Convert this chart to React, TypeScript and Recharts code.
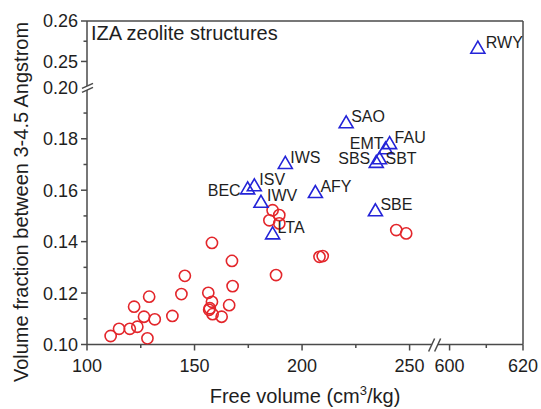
import { Scatter, ScatterChart, XAxis, YAxis } from "recharts";

const FONT = '"Liberation Sans", Arial, Helvetica, sans-serif';
const AXIS = "#4a4a4a";
const INK = "#1e1e1e";
const RED = "#e3262b";
const BLUE = "#2424d8";

// IZA structures (triangles, labelled)
const structNames = ["SAO", "FAU", "EMT", "SBS", "SBT", "IWS", "ISV", "BEC", "IWV", "AFY", "SBE", "LTA", "RWY"];
const structFreeVolume = [220.5, 240.7, 238.8, 234.5, 236.0, 192.2, 177.8, 174.7, 180.9, 206.2, 234.1, 186.3, 607.7];
const structFraction = [0.1864, 0.1783, 0.1763, 0.171, 0.1724, 0.1706, 0.1619, 0.1607, 0.1555, 0.1593, 0.1522, 0.1432, 0.2534];

// other structures (open circles)
const otherFreeVolume = [
  111.0, 114.9, 119.9, 123.4, 121.9, 126.5, 128.1, 128.9, 131.5, 139.7, 143.9, 145.5, 158.1, 156.4, 158.1,
  157.1, 156.8, 158.4, 162.6, 166.1, 167.7, 167.4, 187.9, 186.3, 189.4, 184.8, 189.4, 208.1, 209.6, 243.8, 248.4,
];
const otherFraction = [
  0.1033, 0.1061, 0.1061, 0.1069, 0.1147, 0.1108, 0.1024, 0.1186, 0.1098, 0.1111, 0.1196, 0.1267, 0.1395, 0.1201, 0.1166,
  0.1141, 0.1135, 0.1118, 0.1108, 0.1153, 0.1227, 0.1325, 0.127, 0.1522, 0.1503, 0.1483, 0.1471, 0.1341, 0.1344, 0.1445, 0.1432,
];

// tick labels
const xMajorLow = [100, 150, 200, 250];
const xMinorLow = [125, 175, 225];
const xMajorHigh = [600, 620];
const xMinorHigh = [610];
const yMajorLow = [0.1, 0.12, 0.14, 0.16, 0.18];
const yMinorLow = [0.11, 0.13, 0.15, 0.17, 0.19];
const yMajorHigh = [0.25, 0.26];
const yMinorHigh = [0.255];

// broken axes: values past the break are shifted onto the remaining axis length
type Break = { lowEnd: number; highStart: number; stretch: number };
const xBreak: Break = { lowEnd: 262.1, highStart: 596.2, stretch: 1.707 };
const yBreak: Break = { lowEnd: 0.2, highStart: 0.2436, stretch: 1.573 };
const fold = (v: number, b: Break) => (v <= b.lowEnd ? v : b.lowEnd + (v - b.highStart) * b.stretch);

type TickDef = { at: number; kind: "major" | "minor" | "break"; label?: string };

const xTickDefs: TickDef[] = [
  ...xMajorLow.map((v) => ({ at: v, kind: "major" as const, label: String(v) })),
  ...xMinorLow.map((v) => ({ at: v, kind: "minor" as const })),
  { at: xBreak.lowEnd, kind: "break" as const },
  ...xMajorHigh.map((v) => ({ at: fold(v, xBreak), kind: "major" as const, label: String(v) })),
  ...xMinorHigh.map((v) => ({ at: fold(v, xBreak), kind: "minor" as const })),
].sort((a, b) => a.at - b.at);

const yTickDefs: TickDef[] = [
  ...yMajorLow.map((v) => ({ at: v, kind: "major" as const, label: v.toFixed(2) })),
  ...yMinorLow.map((v) => ({ at: v, kind: "minor" as const })),
  { at: yBreak.lowEnd, kind: "break" as const, label: yBreak.lowEnd.toFixed(2) },
  ...yMajorHigh.map((v) => ({ at: fold(v, yBreak), kind: "major" as const, label: v.toFixed(2) })),
  ...yMinorHigh.map((v) => ({ at: fold(v, yBreak), kind: "minor" as const })),
].sort((a, b) => a.at - b.at);

const findDef = (defs: TickDef[], v: number) => defs.find((d) => Math.abs(d.at - v) < 1e-6);

const xDomain = [100, fold(620, xBreak)];
const yDomain = [0.1, fold(0.26, yBreak)];

const structData = structNames.map((name, i) => ({
  name,
  x: fold(structFreeVolume[i], xBreak),
  y: fold(structFraction[i], yBreak),
}));
const otherData = otherFreeVolume.map((v, i) => ({ x: fold(v, xBreak), y: fold(otherFraction[i], yBreak) }));

// where each label sits relative to its triangle
const defaultPlace = { dx: 5, dy: -6, anchor: "start" };
const labelPlace: Record<string, { dx: number; dy: number; anchor: string }> = {
  EMT: { dx: -2, dy: -5, anchor: "end" },
  SBS: { dx: -6, dy: -4, anchor: "end" },
  BEC: { dx: -7, dy: 2, anchor: "end" },
  SBT: { dx: 6, dy: 0, anchor: "start" },
  IWV: { dx: 6, dy: -7, anchor: "start" },
  RWY: { dx: 8, dy: -5, anchor: "start" },
};

function XTick({ x, y, payload }: any) {
  const def = findDef(xTickDefs, payload.value);
  if (!def) return null;
  if (def.kind === "break") {
    return (
      <g>
        <polygon points={`${x - 7},${y + 7} ${x - 1},${y - 6} ${x + 5},${y - 6} ${x - 1},${y + 7}`} fill="#fff" />
        <line x1={x - 7} y1={y + 7} x2={x - 1} y2={y - 6} stroke={AXIS} strokeWidth={1.5} />
        <line x1={x - 1} y1={y + 7} x2={x + 5} y2={y - 6} stroke={AXIS} strokeWidth={1.5} />
      </g>
    );
  }
  return (
    <g>
      <line x1={x} x2={x} y1={y} y2={y + (def.kind === "major" ? 6 : 3.5)} stroke={AXIS} strokeWidth={1.5} />
      {def.label && (
        <text x={x} y={y + 27.5} textAnchor="middle" fontSize={18} fill={INK} fontFamily={FONT}>
          {def.label}
        </text>
      )}
    </g>
  );
}

function YTick({ x, y, payload }: any) {
  const def = findDef(yTickDefs, payload.value);
  if (!def) return null;
  const label = def.label && (
    <text x={x - 9} y={y} dy="0.36em" textAnchor="end" fontSize={18} fill={INK} fontFamily={FONT}>
      {def.label}
    </text>
  );
  if (def.kind === "break") {
    return (
      <g>
        <polygon points={`${x - 5},${y + 1} ${x + 6},${y - 4} ${x + 6},${y} ${x - 5},${y + 5}`} fill="#fff" />
        <line x1={x - 5} y1={y + 1} x2={x + 6} y2={y - 4} stroke={AXIS} strokeWidth={1.5} />
        <line x1={x - 5} y1={y + 5} x2={x + 6} y2={y} stroke={AXIS} strokeWidth={1.5} />
        {label}
      </g>
    );
  }
  return (
    <g>
      <line x1={x - (def.kind === "major" ? 6 : 3.5)} x2={x} y1={y} y2={y} stroke={AXIS} strokeWidth={1.5} />
      {label}
    </g>
  );
}

const Ring = (p: any) => <circle cx={p.cx} cy={p.cy} r={5.6} fill="none" stroke={RED} strokeWidth={1.6} />;

const Tri = (p: any) => {
  const { cx, cy, payload } = p;
  const place = labelPlace[payload.name] ?? defaultPlace;
  return (
    <g>
      <polygon
        points={`${cx},${cy - 6.5} ${cx - 7},${cy + 5.5} ${cx + 7},${cy + 5.5}`}
        fill="none"
        stroke={BLUE}
        strokeWidth={1.6}
        strokeLinejoin="miter"
      />
      <text
        x={cx + place.dx}
        y={cy + place.dy}
        dy="0.36em"
        textAnchor={place.anchor as any}
        fontSize={16}
        fill={INK}
        fontFamily={FONT}
      >
        {payload.name}
      </text>
    </g>
  );
};

const yTitle = ({ viewBox }: any) => {
  const tx = viewBox.x + 28;
  const ty = viewBox.y + 181;
  return (
    <text x={tx} y={ty} transform={`rotate(-90, ${tx}, ${ty})`} textAnchor="middle" fontSize={20} fill={INK} fontFamily={FONT}>
      Volume fraction between 3-4.5 Angstrom
    </text>
  );
};

const xTitle = ({ viewBox }: any) => (
  <text x={viewBox.x + viewBox.width / 2} y={viewBox.y + 58.5} textAnchor="middle" fontSize={20} fill={INK} fontFamily={FONT}>
    <tspan>Free volume (cm</tspan>
    <tspan dy={-8} fontSize={13}>3</tspan>
    <tspan dy={8}>/kg)</tspan>
  </text>
);

const panelTitle = ({ viewBox }: any) => (
  <text x={viewBox.x + 4} y={viewBox.y + viewBox.height + 19} fontSize={20} fill={INK} fontFamily={FONT}>
    IZA zeolite structures
  </text>
);

export default function App() {
  const axisLine = { stroke: AXIS, strokeWidth: 1.5 };
  return (
    <div style={{ position: "absolute", left: 0, top: 0, width: 541, height: 409, background: "#fff" }}>
      <ScatterChart width={541} height={409} margin={{ top: 20, right: 17, bottom: 0, left: 0 }}>
        <XAxis
          type="number"
          dataKey="x"
          domain={xDomain}
          ticks={xTickDefs.map((d) => d.at)}
          interval={0}
          allowDataOverflow
          height={64.5}
          tickSize={0}
          tickMargin={0}
          tickLine={false}
          axisLine={axisLine}
          tick={<XTick />}
          label={{ content: xTitle }}
        />
        <XAxis
          xAxisId="top"
          orientation="top"
          type="number"
          dataKey="x"
          domain={xDomain}
          allowDataOverflow
          height={1}
          tick={false}
          tickLine={false}
          axisLine={axisLine}
          label={{ content: panelTitle }}
        />
        <YAxis
          type="number"
          dataKey="y"
          domain={yDomain}
          ticks={yTickDefs.map((d) => d.at)}
          interval={0}
          allowDataOverflow
          width={87}
          tickSize={0}
          tickMargin={0}
          tickLine={false}
          axisLine={axisLine}
          tick={<YTick />}
          label={{ content: yTitle }}
        />
        <YAxis
          yAxisId="right"
          orientation="right"
          type="number"
          dataKey="y"
          domain={yDomain}
          allowDataOverflow
          width={1}
          tick={false}
          tickLine={false}
          axisLine={axisLine}
        />
        <Scatter data={otherData} shape={Ring} isAnimationActive={false} />
        <Scatter data={structData} shape={Tri} isAnimationActive={false} />
        <Scatter data={[]} xAxisId="top" yAxisId="right" isAnimationActive={false} />
      </ScatterChart>
    </div>
  );
}
